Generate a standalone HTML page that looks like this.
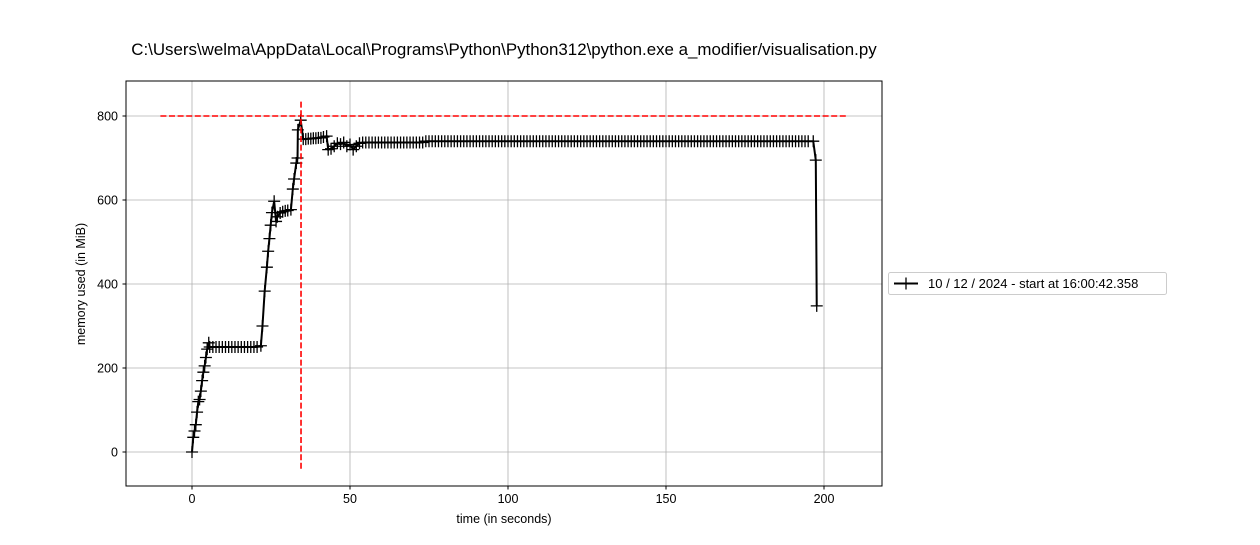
<!DOCTYPE html>
<html><head><meta charset="utf-8"><style>
body{margin:0;background:#fff;font-family:"Liberation Sans",sans-serif;}
svg text{font-family:"Liberation Sans",sans-serif;}
</style></head><body>
<svg id="chart" width="1260" height="540" xmlns="http://www.w3.org/2000/svg">
<text x="504" y="55" font-size="16.9" text-anchor="middle">C:\Users\welma\AppData\Local\Programs\Python\Python312\python.exe a_modifier/visualisation.py</text>
<g id="grid"></g>
<g id="marks"></g>
<rect x="126" y="81" width="756" height="405" fill="none" stroke="#000" stroke-width="1"/>
<g id="axes"></g>
<text x="504" y="523" font-size="12.5" text-anchor="middle">time (in seconds)</text>
<text transform="translate(85,284) rotate(-90)" font-size="12.5" text-anchor="middle">memory used (in MiB)</text>
<g>
<rect x="888.5" y="272.5" width="278" height="22" rx="2" fill="#fff" stroke="#ccc"/>
<line x1="894" y1="283.5" x2="918" y2="283.5" stroke="#000" stroke-width="2"/>
<path d="M900 283.5h12M906 277.5v12" stroke="#000" stroke-width="1.3"/>
<text x="928" y="288" font-size="13">10 / 12 / 2024 - start at 16:00:42.358</text>
</g>
</svg>
<script>
const xTicks=[0,50,100,150,200];
const yTicks=[0,200,400,600,800];
const times=[0,0.4,0.8,1.2,1.6,2.0,2.4,2.8,3.2,3.6,
4.0,4.4,4.8,5.3,5.6,6.6,7.6,8.6,9.6,10.6,
11.6,12.6,13.6,14.6,15.6,16.6,17.6,18.6,19.6,20.6,
21.8,22.3,23,23.7,24.1,24.5,24.9,25.3,26,26.6,
27,27.9,28.7,29.5,30.3,31.3,31.9,32.3,33,33.4,
33.5,34.4,35.2,36,36.8,37.6,38.4,39.2,40,40.8,
41.6,42.6,43.1,44,45,46,47,48,49,50,
51,52,53,
54,55,56,57,58,59,60,61,62,63,
64,65,66,67,68,69,70,71,72,73,
74,75,76,77,78,79,80,81,82,83,
84,85,86,87,88,89,90,91,92,93,
94,95,96,97,98,99,100,101,102,103,
104,105,106,107,108,109,110,111,112,113,
114,115,116,117,118,119,120,121,122,123,
124,125,126,127,128,129,130,131,132,133,
134,135,136,137,138,139,140,141,142,143,
144,145,146,147,148,149,150,151,152,153,
154,155,156,157,158,159,160,161,162,163,
164,165,166,167,168,169,170,171,172,173,
174,175,176,177,178,179,180,181,182,183,
184,185,186,187,188,189,190,191,192,193,
194,195,196.6,
197.4,197.7];
const memory=[0,35,50,65,95,120,125,145,170,190,
205,225,245,260,250,250,250,250,250,250,
250,250,250,250,250,250,250,250,250,250,
253,300,383,440,478,508,540,570,597,549,
560,569,572,574,575,577,626,650,688,700,
767,790,745,745,746,746,747,747,748,748,
750,752,720,722,728,735,733,737,728,732,
720,728,735,
737,737,737,737,737,737,737,737,737,737,
737,737,737,737,737,737,737,737,737,737,
740,740,740,740,740,740,740,740,740,740,
740,740,740,740,740,740,740,740,740,740,
740,740,740,740,740,740,740,740,740,740,
740,740,740,740,740,740,740,740,740,740,
740,740,740,740,740,740,740,740,740,740,
740,740,740,740,740,740,740,740,740,740,
740,740,740,740,740,740,740,740,740,740,
740,740,740,740,740,740,740,740,740,740,
740,740,740,740,740,740,740,740,740,740,
740,740,740,740,740,740,740,740,740,740,
740,740,740,740,740,740,740,740,740,740,
740,740,740,740,740,740,740,740,740,740,
740,740,740,
695,348];
const hLine=[800,-10,207];
const vLine=[34.5,-40,840];
const X=t=>192+t*3.16, Y=v=>452-v*0.42;
const NS='http://www.w3.org/2000/svg';
const grid=document.getElementById('grid'),axes=document.getElementById('axes'),marks=document.getElementById('marks');
function mk(tag,attrs,parent){const e=document.createElementNS(NS,tag);for(const k in attrs)e.setAttribute(k,attrs[k]);parent.appendChild(e);return e;}
xTicks.forEach(t=>{const x=X(t);
 const g=mk('line',{x1:x,x2:x,y1:81,y2:486,stroke:'#b0b0b0','stroke-width':0.8},grid);
 
 
 mk('line',{x1:x,x2:x,y1:486,y2:489.5,stroke:'#000'},axes);
 const tx=mk('text',{x:x,y:503,'font-size':12.5,'text-anchor':'middle'},axes);tx.textContent=t;
 
 });
yTicks.forEach(v=>{const y=Y(v);
 const g=mk('line',{x1:126,x2:882,y1:y,y2:y,stroke:'#b0b0b0','stroke-width':0.8},grid);
 
 
 mk('line',{x1:122.5,x2:126,y1:y,y2:y,stroke:'#000'},axes);
 const tx=mk('text',{x:118,y:y+4.5,'font-size':12.5,'text-anchor':'end'},axes);tx.textContent=v;
 
 });
const n=Math.min(times.length,memory.length);
const pts=times.slice(0,n).map((t,i)=>X(t)+','+Y(memory[i])).join(' ');
const line=mk('polyline',{points:pts,fill:'none',stroke:'#000','stroke-width':2},marks);


let d='';for(let i=0;i<n;i++){const x=X(times[i]),y=Y(memory[i]);d+=`M${x-6} ${y}h12M${x} ${y-6}v12`;}
const m=mk('path',{d:d,stroke:'#000','stroke-width':1.3,fill:'none'},marks);


const h=mk('line',{x1:X(hLine[1]),x2:X(hLine[2]),y1:Y(hLine[0]),y2:Y(hLine[0]),stroke:'#f00','stroke-width':1.6,'stroke-dasharray':'6,2.6'},marks);


const v=mk('line',{x1:X(vLine[0]),x2:X(vLine[0]),y1:Y(vLine[1]),y2:Y(vLine[2]),stroke:'#f00','stroke-width':1.6,'stroke-dasharray':'6,2.6'},marks);


</script>
</body></html>
